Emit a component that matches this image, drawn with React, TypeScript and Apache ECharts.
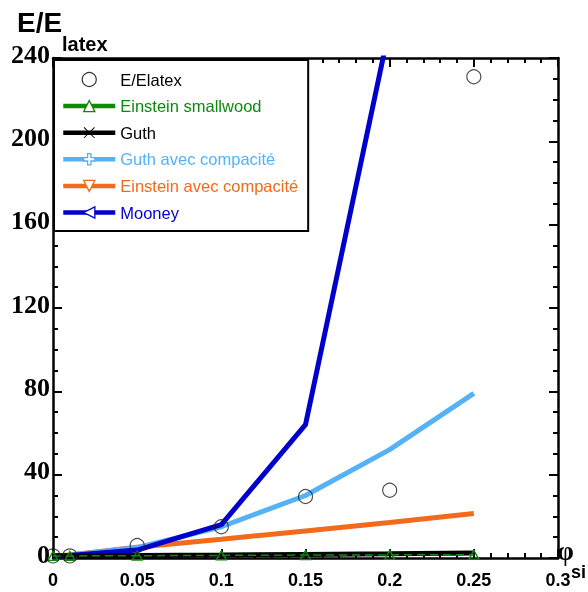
import React, { useEffect, useRef } from 'react';
import * as echarts from 'echarts';

const xValues = [0, 0.01, 0.05, 0.1, 0.15, 0.2, 0.25];
const measured = [1, 1, 6, 15, 29.5, 32.5, 231];
const einsteinSmallwood = [1, 1, 1.1, 1.25, 1.4, 1.5, 1.6];
const guth = [1, 1, 1.2, 1.4, 1.7, 2, 2.4];
const guthCompacite = [1, 1.3, 5, 15, 30, 52, 79];
const einsteinCompacite = [1, 1.5, 5.2, 9, 13, 17, 21.4];
const mooney = [1, 1.2, 3.8, 16, 64, 255, null];

const seriesNames = [
  'E/Elatex',
  'Einstein smallwood',
  'Guth',
  'Guth avec compacité',
  'Einstein avec compacité',
  'Mooney',
];

const GREEN = '#0C8A0C';
const LBLUE = '#55B2F6';
const ORANGE = '#F26A1B';
const BLUE = '#0000CC';

const X_SYM = 'path://M0,0.6 L0.6,0 L5,4.4 L9.4,0 L10,0.6 L5.6,5 L10,9.4 L9.4,10 L5,5.6 L0.6,10 L0,9.4 L4.4,5 Z';
const PLUS_SYM = 'path://M3.5,0 H6.5 V3.5 H10 V6.5 H6.5 V10 H3.5 V6.5 H0 V3.5 H3.5 Z';
const DOWN_SYM = 'path://M0,0 L10,0 L5,8.66 Z';
const LEFT_SYM = 'path://M0,5 L8.66,0 L8.66,10 Z';

const pairs = (ys: (number | null)[]) =>
  xValues.map((x, i) => (ys[i] === null ? null : [x, ys[i]])).filter((p) => p !== null);

export default function App() {
  const ref = useRef<HTMLDivElement>(null);
  useEffect(() => {
    if (!ref.current) return;
    const chart = echarts.init(ref.current, undefined, { renderer: 'svg' });
    const axisLine = { show: true, onZero: false, lineStyle: { color: '#000', width: 2.5 } };
    const xCommon = {
      type: 'value',
      min: 0,
      max: 0.3,
      interval: 0.05,
      axisLine,
      axisTick: { show: true, inside: true, length: 9, lineStyle: { color: '#000', width: 2 } },
      minorTick: { show: true, splitNumber: 5, length: 5, lineStyle: { color: '#000', width: 2 } },
      splitLine: { show: false },
      minorSplitLine: { show: false },
    };
    const yCommon = {
      type: 'value',
      min: 0,
      max: 240,
      interval: 40,
      axisLine,
      axisTick: { show: true, inside: true, length: 9, lineStyle: { color: '#000', width: 2 } },
      minorTick: { show: true, splitNumber: 4, length: 5, lineStyle: { color: '#000', width: 2 } },
      splitLine: { show: false },
      minorSplitLine: { show: false },
    };
    const lineSeries = (name: string, ys: (number | null)[], color: string, symbol: string, extra: any = {}) => ({
      type: 'line',
      name,
      data: pairs(ys),
      symbol,
      symbolSize: 10,
      showSymbol: false,
      lineStyle: { color, width: 5 },
      itemStyle: { color },
      emphasis: { disabled: true },
      ...extra,
    });
    const legendLine = (name: string, color: string, fill: string, border: string, bw = 1.3) => ({
      name,
      textStyle: { color },
      lineStyle: { color, width: 4.5, type: 'solid' },
      itemStyle: { color: fill, borderColor: border, borderWidth: bw },
    });
    const option: any = {
      animation: false,
      grid: { left: 53, right: 30, top: 58, bottom: 34, containLabel: false },
      xAxis: [
        {
          ...xCommon,
          position: 'bottom',
          axisLabel: {
            show: true,
            margin: 13,
            color: '#000',
            fontFamily: 'Liberation Sans',
            fontWeight: 'bold',
            fontSize: 18,
            formatter: (v: number) => String(Math.round(v * 100) / 100),
          },
        },
        { ...xCommon, position: 'top', axisLabel: { show: false } },
      ],
      yAxis: [
        {
          ...yCommon,
          position: 'left',
          axisLabel: {
            show: true,
            margin: 3,
            verticalAlign: 'bottom',
            lineHeight: 8,
            color: '#000',
            fontFamily: 'Liberation Serif',
            fontWeight: 'bold',
            fontSize: 26,
          },
        },
        { ...yCommon, position: 'right', axisLabel: { show: false } },
      ],
      legend: {
        orient: 'vertical',
        left: 54,
        top: 60,
        padding: [11, 10, 10, 7],
        itemWidth: 52,
        itemHeight: 14,
        itemGap: 9.6,
        backgroundColor: '#fff',
        borderColor: '#000',
        borderWidth: 2,
        selectedMode: false,
        textStyle: { fontFamily: 'Liberation Sans', fontSize: 16.5 },
        data: [
          {
            name: seriesNames[0],
            textStyle: { color: '#000' },
            itemStyle: { color: '#fff', borderColor: '#000', borderWidth: 1.2 },
          },
          legendLine(seriesNames[1], GREEN, '#fff', GREEN),
          legendLine(seriesNames[2], '#000', '#000', '#000', 0),
          legendLine(seriesNames[3], LBLUE, '#fff', LBLUE),
          legendLine(seriesNames[4], ORANGE, '#fff', ORANGE),
          legendLine(seriesNames[5], BLUE, '#fff', BLUE),
        ],
      },
      graphic: [
        {
          type: 'text',
          left: 17,
          top: 8,
          style: { text: 'E/E', font: 'bold 28px "Liberation Sans"', fill: '#000' },
        },
        {
          type: 'text',
          left: 62,
          top: 34,
          style: { text: 'latex', font: 'bold 20px "Liberation Sans"', fill: '#000' },
        },
        {
          type: 'text',
          left: 557,
          top: 537,
          style: { text: 'φ', font: 'bold 27px "Liberation Serif"', fill: '#000' },
        },
        {
          type: 'text',
          left: 571,
          top: 563,
          style: { text: 'si', font: 'bold 18px "Liberation Sans"', fill: '#000' },
        },
      ],
      series: [
        lineSeries(seriesNames[4], einsteinCompacite, ORANGE, DOWN_SYM),
        lineSeries(seriesNames[3], guthCompacite, LBLUE, PLUS_SYM, { symbolSize: 8 }),
        lineSeries(seriesNames[5], mooney, BLUE, LEFT_SYM),
        lineSeries(seriesNames[2], guth, '#000', X_SYM),
        lineSeries(seriesNames[1], einsteinSmallwood, GREEN, 'triangle', {
          showSymbol: true,
          symbolSize: [10, 9],
          lineStyle: { color: GREEN, width: 1.5, type: [8, 5] },
          itemStyle: { color: 'rgba(0,0,0,0)', borderColor: GREEN, borderWidth: 1.3 },
        }),
        {
          type: 'scatter',
          name: seriesNames[0],
          data: pairs(measured),
          symbol: 'circle',
          symbolSize: 14,
          itemStyle: { color: 'rgba(0,0,0,0)', borderColor: '#222', borderWidth: 1.2 },
          emphasis: { disabled: true },
          z: 5,
        },
      ],
    };
    chart.setOption(option);
    return () => chart.dispose();
  }, []);
  return <div ref={ref} style={{ position: 'fixed', left: 0, top: 0, width: 588, height: 592 }} />;
}
